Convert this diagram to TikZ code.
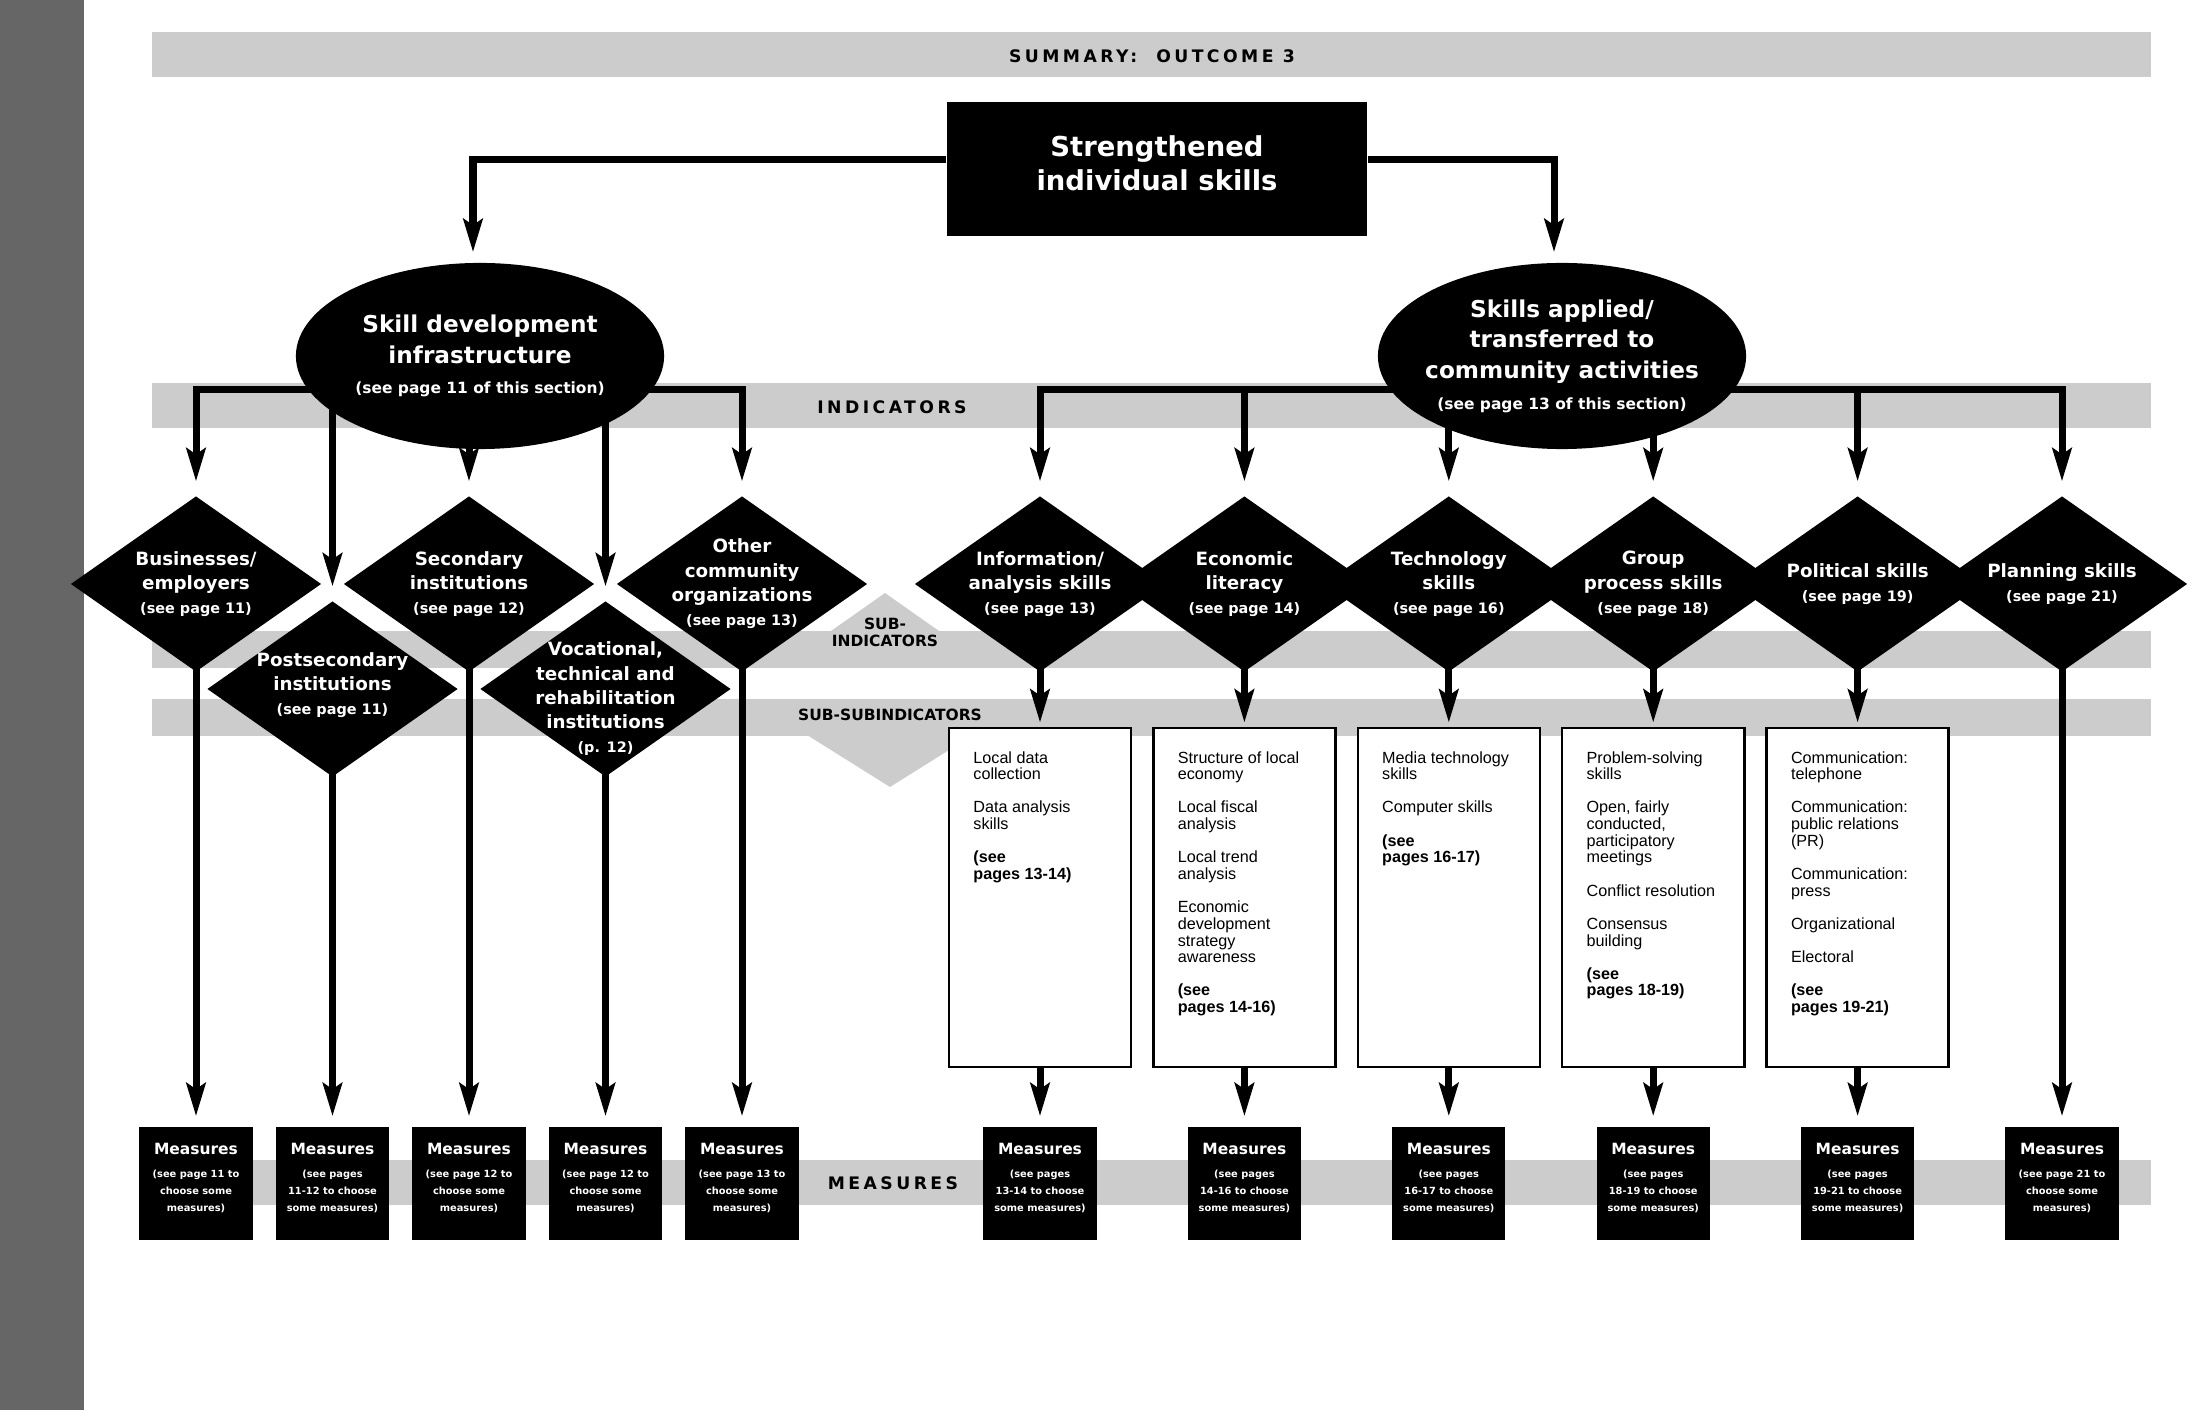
\documentclass[tikz,border=0pt]{standalone}
\usepackage{fontspec}
\setmainfont{Liberation Sans}
\newfontfamily\heavyfont{DejaVu Sans}
\newfontfamily\trackfont[LetterSpace=20]{DejaVu Sans}
\usetikzlibrary{positioning,shapes.geometric,arrows.meta}

\newcommand{\seep}[1]{{\fontsize{4.1}{6.9}\selectfont #1}}
\newcommand{\seeq}[1]{{\fontsize{4.4}{8.7}\selectfont #1}}
\newcommand{\seebox}[1]{\textbf{(see}\\\textbf{pages #1)}}

\tikzset{
    band/.style={fill=black!20},
    wire/.style={line width=0.07cm, line cap=rect},
    arr/.style={line width=0.07cm, -{Stealth[length=0.33cm,width=0.19cm,inset=0.06cm]}, shorten >=0.1cm},
    bandlabel/.style={font=\trackfont\bfseries\fontsize{4.9}{5.5}\selectfont, inner sep=0pt},
    sublabel/.style={font=\heavyfont\bfseries\fontsize{4.4}{4.9}\selectfont, align=center, inner sep=0pt},
    goalbox/.style={fill=black, text=white, minimum width=4.2cm, minimum height=1.34cm, align=center, text depth=0.115cm, font=\heavyfont\bfseries\fontsize{7.8}{9.6}\selectfont},
    oval/.style={ellipse, fill=black, minimum width=3.68cm, minimum height=1.86cm, inner sep=0pt},
    ovaltext/.style={text=white, align=center, inner sep=0pt, font=\heavyfont\bfseries\fontsize{6.6}{8.7}\selectfont},
    diam/.style={diamond, fill=black, minimum width=2.5cm, minimum height=1.75cm, inner sep=0pt, outer sep=0pt},
    diamtext/.style={text=white, align=center, inner sep=0pt, font=\heavyfont\bfseries\fontsize{5.2}{6.9}\selectfont},
    subbox/.style={draw, line width=0.025cm, fill=white, minimum width=1.82cm, minimum height=3.39cm, inner sep=0pt},
    subtext/.style={align=left, inner sep=0pt, font=\fontsize{4.6}{4.73}\selectfont},
    measbox/.style={fill=black, text=white, minimum width=1.13cm, minimum height=1.13cm, inner sep=0pt, align=center, text depth=3.6pt, font=\heavyfont\bfseries\fontsize{2.8}{4.8}\selectfont},
}

\begin{document}
\begin{tikzpicture}[x=0.01cm, y=-0.01cm]
    \useasboundingbox (0,0) rectangle (2206,1410);
    % page margin and grey bands
    \fill[black!60] (0,0) rectangle (84,1410);
    \fill[band] (152,32) rectangle (2151,77);
    \fill[band] (152,383) rectangle (2151,428);
    \fill[band] (152,631) rectangle (2151,668);
    \fill[band] (831,631) -- (885,593) -- (939,631) -- cycle;
    \fill[band] (152,699) rectangle (2151,736);
    \fill[band] (807,735) -- (890,787) -- (973,735) -- cycle;
    \fill[band] (152,1160) rectangle (2151,1205);

    \node[bandlabel] (title) at (1152,56) {SUMMARY:\ \ OUTCOME 3};
    \node[bandlabel] (indlabel) at (892,407) {INDICATORS};
    \node[sublabel] (sublabel) at (885,632) {SUB-\\INDICATORS};
    \node[sublabel] (subsublabel) at (890,715) {SUB-SUBINDICATORS};
    \node[bandlabel] (measlabel) at (893,1183) {MEASURES};

    \node[goalbox] (goal) at (1157,169) {Strengthened\\individual skills};

    % indicators
    \foreach \n/\x/\y in {l1/196/584, l2/332.5/689, l3/469/584, l4/605.5/689, l5/742/584}
        \node[diam] (\n) at (\x,\y) {};
    \foreach \n/\x in {r1/1040, r2/1244.4, r3/1448.8, r4/1653.2, r5/1857.6, r6/2062}
        \node[diam] (\n) at (\x,584) {};

    \node[diamtext] (l1t) at (l1) {Businesses/\\employers\\\seep{(see page 11)}};
    \node[diamtext] (l2t) at ([yshift=0.04cm]l2) {Postsecondary\\institutions\\\seep{(see page 11)}};
    \node[diamtext] (l3t) at (l3) {Secondary\\institutions\\\seep{(see page 12)}};
    \node[diamtext] (l4t) at ([yshift=-0.1cm]l4) {Vocational,\\technical and\\rehabilitation\\institutions\\\seep{(p. 12)}};
    \node[diamtext] (l5t) at (l5) {Other\\community\\organizations\\\seep{(see page 13)}};
    \node[diamtext] (r1t) at (r1) {Information/\\analysis skills\\\seep{(see page 13)}};
    \node[diamtext] (r2t) at (r2) {Economic\\literacy\\\seep{(see page 14)}};
    \node[diamtext] (r3t) at (r3) {Technology\\skills\\\seep{(see page 16)}};
    \node[diamtext] (r4t) at (r4) {Group\\process skills\\\seep{(see page 18)}};
    \node[diamtext] (r5t) at (r5) {Political skills\\\seep{(see page 19)}};
    \node[diamtext] (r6t) at (r6) {Planning skills\\\seep{(see page 21)}};

    % bus lines under the two outcomes
    \coordinate (busy) at (0,390);
    \draw[wire] (l1.north |- busy) -- (l5.north |- busy);
    \draw[wire] (r1.north |- busy) -- (r6.north |- busy);
    \foreach \n in {l1,l2,l3,l4,l5,r1,r2,r3,r4,r5,r6}
        \draw[arr, shorten >=0.15cm] (\n.north |- busy) -- (\n.north);

    % outcomes
    \node[oval] (infra) at (480,356) {};
    \node[ovaltext] (infrat) at (infra) {Skill development\\infrastructure\\\seeq{(see page 11 of this section)}};
    \node[oval] (applied) at (1562,356) {};
    \node[ovaltext] (appliedt) at (applied) {Skills applied/\\transferred to\\community activities\\\seeq{(see page 13 of this section)}};
    \draw[arr] ([yshift=0.09cm]goal.west) -| ([xshift=-0.07cm]infra.north);
    \draw[arr] ([yshift=0.09cm]goal.east) -| ([xshift=-0.08cm]applied.north);

    % sub-subindicators
    \foreach \n/\x in {s1/1040, s2/1244.4, s3/1448.8, s4/1653.2, s5/1857.6}
        \node[subbox] (\n) at (\x,897.5) {};
    \node[subtext, below right=0.24cm and 0.25cm of s1.north west] (s1t) {Local data\\collection\\[4.73pt]Data analysis\\skills\\[4.73pt]\seebox{13-14}};
    \node[subtext, below right=0.24cm and 0.25cm of s2.north west] (s2t) {Structure of local\\economy\\[4.73pt]Local fiscal\\analysis\\[4.73pt]Local trend\\analysis\\[4.73pt]Economic\\development\\strategy\\awareness\\[4.73pt]\seebox{14-16}};
    \node[subtext, below right=0.24cm and 0.25cm of s3.north west] (s3t) {Media technology\\skills\\[4.73pt]Computer skills\\[4.73pt]\seebox{16-17}};
    \node[subtext, below right=0.24cm and 0.25cm of s4.north west] (s4t) {Problem-solving\\skills\\[4.73pt]Open, fairly\\conducted,\\participatory\\meetings\\[4.73pt]Conflict resolution\\[4.73pt]Consensus\\building\\[4.73pt]\seebox{18-19}};
    \node[subtext, below right=0.24cm and 0.25cm of s5.north west] (s5t) {Communication:\\telephone\\[4.73pt]Communication:\\public relations\\(PR)\\[4.73pt]Communication:\\press\\[4.73pt]Organizational\\[4.73pt]Electoral\\[4.73pt]\seebox{19-21}};

    % measures
    \foreach \n/\x/\a/\b/\c in {ml1/196/{(see page 11 to}/{choose some}/{measures)},
            ml2/332.5/{(see pages}/{11-12 to choose}/{some measures)},
            ml3/469/{(see page 12 to}/{choose some}/{measures)},
            ml4/605.5/{(see page 12 to}/{choose some}/{measures)},
            ml5/742/{(see page 13 to}/{choose some}/{measures)},
            mr1/1040/{(see pages}/{13-14 to choose}/{some measures)},
            mr2/1244.4/{(see pages}/{14-16 to choose}/{some measures)},
            mr3/1448.8/{(see pages}/{16-17 to choose}/{some measures)},
            mr4/1653.2/{(see pages}/{18-19 to choose}/{some measures)},
            mr5/1857.6/{(see pages}/{19-21 to choose}/{some measures)},
            mr6/2062/{(see page 21 to}/{choose some}/{measures)}}
        \node[measbox] (\n) at (\x,1183.5) {{\fontsize{4.4}{4.8}\selectfont Measures}\\[1.8pt]\a\\\b\\\c};

    % down to the measures
    \foreach \n in {1,...,5}
        \draw[arr] ([yshift=0.1cm]l\n.south) -- (ml\n.north);
    \foreach \n in {1,...,5}
    {
        \draw[arr, shorten >=0.04cm] ([yshift=0.1cm]r\n.south) -- (s\n.north);
        \draw[arr] (s\n.south) -- (mr\n.north);
    }
    \draw[arr] ([yshift=0.1cm]r6.south) -- (mr6.north);
\end{tikzpicture}
\end{document}
